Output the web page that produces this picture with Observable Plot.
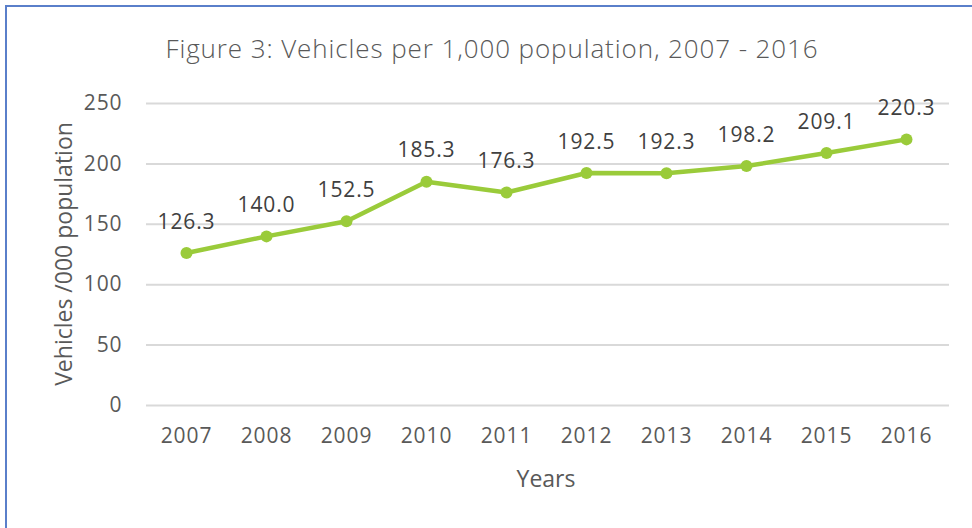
<!DOCTYPE html>
<html>
<head>
<meta charset="utf-8">
<script src="https://cdn.jsdelivr.net/npm/d3@7"></script>
<script src="https://cdn.jsdelivr.net/npm/@observablehq/plot@0.6"></script>
<style>
  html, body { margin: 0; padding: 0; background: #fff; }
  #wrap { position: relative; width: 972px; height: 528px; overflow: hidden; background: #fff; font-family: "Open Sans", sans-serif; }
  #frame { position: absolute; left: 5px; top: 5px; width: 1200px; height: 800px; border-top: 2px solid #5a7fca; border-left: 2px solid #5a7fca; box-sizing: border-box; }
  #chart { position: absolute; left: 0; top: 0; }
  .title { position: absolute; left: 0; width: 984px; top: 30px; text-align: center; font-size: 26px; letter-spacing: 0.9px; color: #595959; font-family: "Open Sans", sans-serif; font-weight: 300; white-space: nowrap; }
  .ylab { position: absolute; left: 63px; top: 254px; transform: translate(-50%, -50%) rotate(-90deg); font-size: 23px; color: #595959; white-space: nowrap; }
  .xlab { position: absolute; left: 546px; top: 478px; transform: translate(-50%, -50%); font-size: 23px; color: #595959; white-space: nowrap; }
</style>
</head>
<body>
<div id="wrap">
  <div id="frame"></div>
  <div id="chart"></div>
  <div class="title">Figure 3: Vehicles per 1,000 population, 2007 - 2016</div>
  <div class="ylab">Vehicles /000 population</div>
  <div class="xlab">Years</div>
</div>
<script>
const years = ["2007","2008","2009","2010","2011","2012","2013","2014","2015","2016"];
const vehicles = [126.3, 140.0, 152.5, 185.3, 176.3, 192.5, 192.3, 198.2, 209.1, 220.3];
const yTicks = [0, 50, 100, 150, 200, 250];

const data = years.map((y, i) => ({year: y, value: vehicles[i]}));
const green = "#9acb3a";

const chart = Plot.plot({
  width: 972,
  height: 528,
  marginTop: 103,
  marginBottom: 123,
  marginLeft: 146,
  marginRight: 23,
  style: {fontFamily: "Open Sans, sans-serif", fontSize: "21px", letterSpacing: "0.9px", color: "#595959", background: "transparent"},
  x: {type: "point", domain: years, range: [184, 907], padding: 0, label: null},
  y: {domain: [0, 250], ticks: yTicks, label: null},
  marks: [
    Plot.ruleY(yTicks, {stroke: "#d9d9d9", strokeWidth: 2}),
    Plot.axisX({tickSize: 0, tickPadding: 23, fontSize: 21, label: null, fill: "#595959"}),
    Plot.axisY({ticks: yTicks, tickSize: 0, tickPadding: 24, fontSize: 21, label: null, fill: "#595959"}),
    Plot.line(data, {x: "year", y: "value", stroke: green, strokeWidth: 4.5}),
    Plot.dot(data, {x: "year", y: "value", fill: green, r: 6}),
    Plot.text(data, {x: "year", y: "value", text: d => d.value.toFixed(1), dy: -31, fontSize: 21, fill: "#404040"})
  ]
});
document.getElementById("chart").appendChild(chart);
</script>
</body>
</html>
